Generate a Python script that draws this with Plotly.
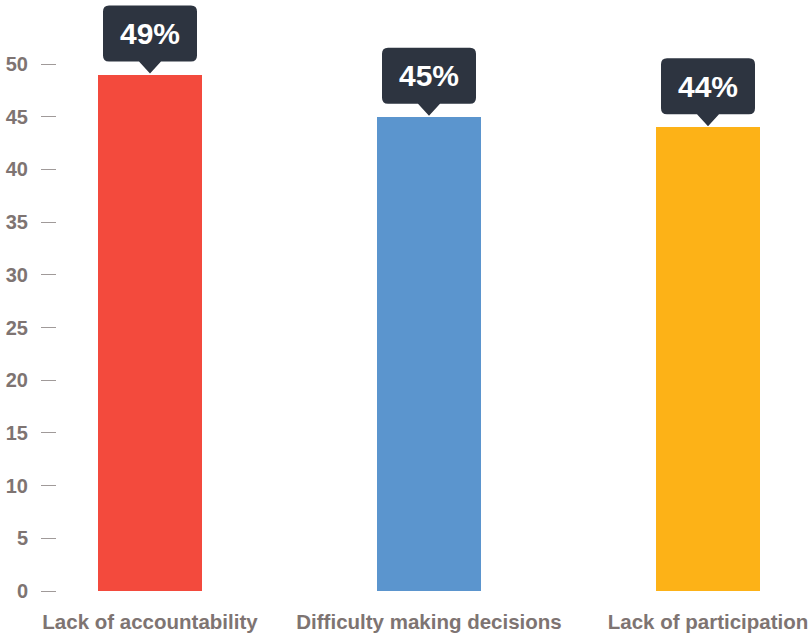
import plotly.graph_objects as go

categories = ["Lack of accountability", "Difficulty making decisions", "Lack of participation"]
values = [49, 45, 44]
colors = ["#F34A3D", "#5B95CE", "#FDB217"]
y_ticks = [0, 5, 10, 15, 20, 25, 30, 35, 40, 45, 50]

x_idx = list(range(len(categories)))

FIG_W, FIG_H = 809, 633
PLOT_L, PLOT_T, PLOT_B = 57, 0, 591  # page pixels

fig = go.Figure()
fig.add_trace(go.Bar(
    x=x_idx, y=values, marker=dict(color=colors, line=dict(width=0)),
    width=0.376, hoverinfo="skip",
))

# callout bubble (pixel-sized path anchored at bar top)
r = 6
w = 47
yb = 13
yt = 69
pw = 11
path = (f"M 0,1 L {pw},{yb} L {w-r},{yb} Q {w},{yb} {w},{yb+r} "
        f"L {w},{yt-r} Q {w},{yt} {w-r},{yt} L {-w+r},{yt} Q {-w},{yt} {-w},{yt-r} "
        f"L {-w},{yb+r} Q {-w},{yb} {-w+r},{yb} L {-pw},{yb} Z")

for i, v in zip(x_idx, values):
    fig.add_shape(type="path", xref="x", yref="y", xsizemode="pixel", ysizemode="pixel",
                  xanchor=i, yanchor=v, path=path,
                  fillcolor="#2D3440", line=dict(width=0), layer="above")
    fig.add_annotation(x=i, y=v, text=f"<b>{v}%</b>", showarrow=False,
                       yshift=41, yanchor="middle",
                       font=dict(family="Liberation Sans, Arial, sans-serif", size=30, color="#FFFFFF"))

fig.update_layout(
    width=FIG_W, height=FIG_H,
    margin=dict(l=PLOT_L, r=0, t=PLOT_T, b=FIG_H - PLOT_B),
    plot_bgcolor="white", paper_bgcolor="white",
    showlegend=False,
    bargap=0,
)
fig.update_xaxes(
    range=[(PLOT_L - 150) / 279, (809 - 150) / 279],
    tickvals=x_idx, ticktext=[f"<b>{c}</b>" for c in categories],
    showgrid=False, zeroline=False, showline=False, ticks="",
    tickfont=dict(family="Liberation Sans, Arial, sans-serif", size=20.5, color="#7E7472"),
    ticklabelstandoff=16,
)
fig.update_yaxes(
    range=[0, (PLOT_B - PLOT_T) / 10.54],
    tickvals=y_ticks, ticktext=[f"<b>{t}</b>" for t in y_ticks],
    showgrid=False, zeroline=False, showline=False,
    ticks="outside", ticklen=15, tickwidth=1, tickcolor="#A09A99",
    tickfont=dict(family="Liberation Sans, Arial, sans-serif", size=20, color="#7E7472"),
    ticklabelstandoff=9,
)

fig.write_html(
    "out.html",
    config={"displayModeBar": False},
    post_script="document.body.style.margin='0';document.documentElement.style.overflow='hidden';",
)
